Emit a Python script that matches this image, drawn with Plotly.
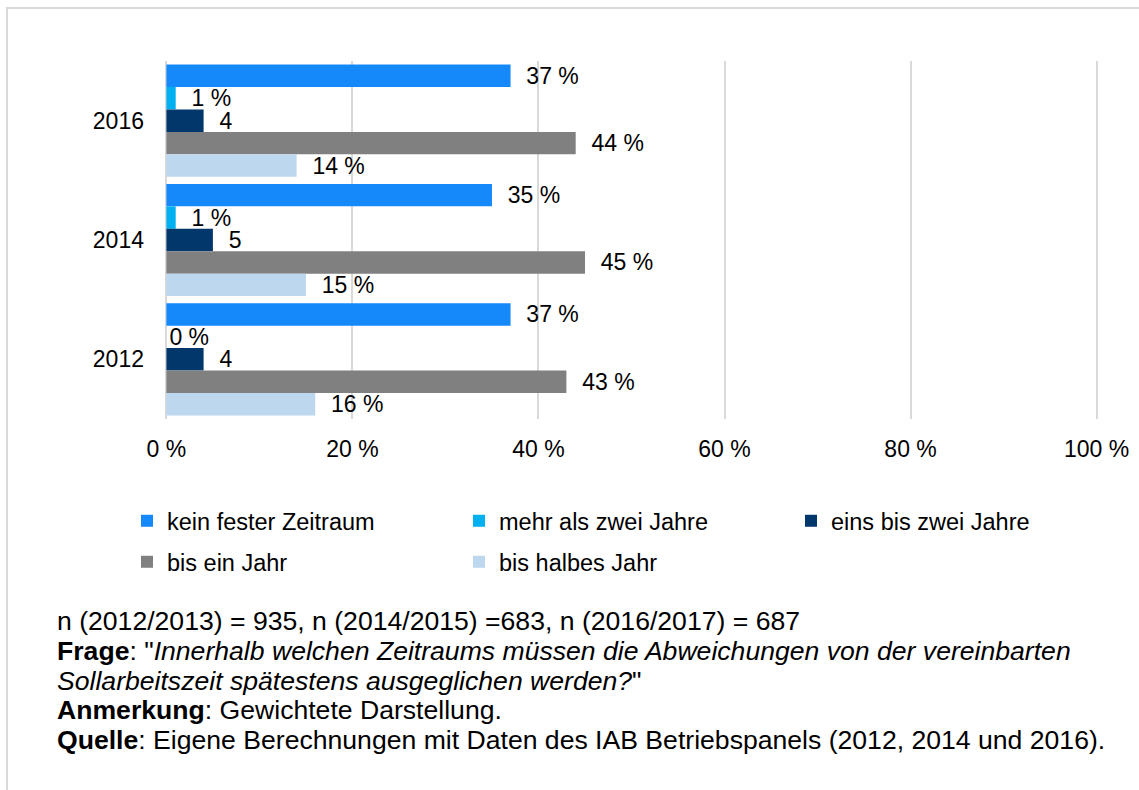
import plotly.graph_objects as go

# Survey waves (top to bottom) and answer categories
years = ["2016", "2014", "2012"]
series_names = [
    "kein fester Zeitraum",
    "mehr als zwei Jahre",
    "eins bis zwei Jahre",
    "bis ein Jahr",
    "bis halbes Jahr",
]
# Shares in percent, per category, in the order of `years`
kein_fester_zeitraum = [37, 35, 37]
mehr_als_zwei_jahre = [1, 1, 0]
eins_bis_zwei_jahre = [4, 5, 4]
bis_ein_jahr = [44, 45, 43]
bis_halbes_jahr = [14, 15, 16]
values = [kein_fester_zeitraum, mehr_als_zwei_jahre, eins_bis_zwei_jahre,
          bis_ein_jahr, bis_halbes_jahr]
label_suffix = [" %", " %", "", " %", " %"]

colors = ["#1589FA", "#00B0F0", "#02376C", "#808080", "#BDD7EE"]
legend_ids = ["legend", "legend", "legend", "legend2", "legend2"]

x_ticks = [0, 20, 40, 60, 80, 100]
x_ticktext = [f"{t} %" for t in x_ticks]

# Footnote lines below the chart
footnote_lines = [
    "n (2012/2013) = 935, n (2014/2015) =683, n (2016/2017) = 687",
    "<b>Frage</b>: \"<i>Innerhalb welchen Zeitraums müssen die Abweichungen von der vereinbarten</i>",
    "<i>Sollarbeitszeit spätestens ausgeglichen werden?</i>\"",
    "<b>Anmerkung</b>: Gewichtete Darstellung.",
    "<b>Quelle</b>: Eigene Berechnungen mit Daten des IAB Betriebspanels (2012, 2014 und 2016).",
]

FONT = "Liberation Sans, Arial, sans-serif"
NBSP = "\u00a0"

# plot area geometry in pixels (used to place paper-referenced items)
PLOT_TOP, PLOT_BOTTOM = 61, 419
PLOT_LEFT, PLOT_RIGHT = 165, 1098


def py(p):
    return (PLOT_BOTTOM - p) / (PLOT_BOTTOM - PLOT_TOP)


def px(p):
    return (p - PLOT_LEFT) / (PLOT_RIGHT - PLOT_LEFT)


fig = go.Figure()
for name, vals, suf, col, lg in zip(series_names, values, label_suffix, colors, legend_ids):
    labels = [(NBSP * 2 if v > 0 else "") + f"{v}{suf}" for v in vals]
    fig.add_trace(go.Bar(
        name=name,
        y=years,
        x=vals,
        orientation="h",
        marker=dict(color=col, line=dict(width=0)),
        text=labels,
        textposition="outside",
        constraintext="none",
        cliponaxis=False,
        outsidetextfont=dict(family=FONT, size=23, color="#000000"),
        legend=lg,
        hoverinfo="skip",
    ))

legend_common = dict(
    orientation="h",
    xanchor="left",
    yanchor="middle",
    x=px(127),
    font=dict(family=FONT, size=23.5, color="#000000"),
    entrywidth=287,
    entrywidthmode="pixels",
    bgcolor="rgba(0,0,0,0)",
    traceorder="normal",
)

annotations = []
for i, line in enumerate(footnote_lines):
    annotations.append(dict(
        text=line,
        xref="paper", yref="paper",
        x=px(55), y=py(621 + 29.8 * i),
        xanchor="left", yanchor="middle",
        align="left",
        showarrow=False,
        font=dict(family=FONT, size=26.6, color="#000000"),
    ))

fig.update_layout(
    width=1139,
    height=790,
    margin=dict(l=PLOT_LEFT, r=1139 - PLOT_RIGHT, t=PLOT_TOP, b=790 - PLOT_BOTTOM,
                autoexpand=False),
    paper_bgcolor="#ffffff",
    plot_bgcolor="#ffffff",
    barmode="group",
    bargap=0.06,
    bargroupgap=0,
    font=dict(family=FONT, size=23, color="#000000"),
    showlegend=True,
    legend=dict(legend_common, y=py(521)),
    legend2=dict(legend_common, y=py(562)),
    xaxis=dict(
        range=[-0.15, 100.15],
        tickvals=x_ticks,
        ticktext=x_ticktext,
        showgrid=True,
        gridcolor="#d9d9d9",
        gridwidth=1.6,
        zeroline=True,
        zerolinecolor="#d9d9d9",
        zerolinewidth=1.6,
        showline=False,
        ticks="",
        ticklabelstandoff=14,
        tickfont=dict(family=FONT, size=23, color="#000000"),
        fixedrange=True,
    ),
    yaxis=dict(
        type="category",
        categoryorder="array",
        categoryarray=years,
        autorange="reversed",
        showgrid=False,
        zeroline=False,
        showline=False,
        ticks="",
        ticklabelstandoff=20,
        tickfont=dict(family=FONT, size=23, color="#000000"),
        fixedrange=True,
    ),
    shapes=[dict(
        type="rect", xref="paper", yref="paper",
        x0=px(7), x1=1.3, y0=-1.6, y1=py(8),
        line=dict(color="#d9d9d9", width=2),
        fillcolor="rgba(0,0,0,0)",
        layer="below",
    )],
    annotations=annotations,
)

fig.write_html("out.html")
